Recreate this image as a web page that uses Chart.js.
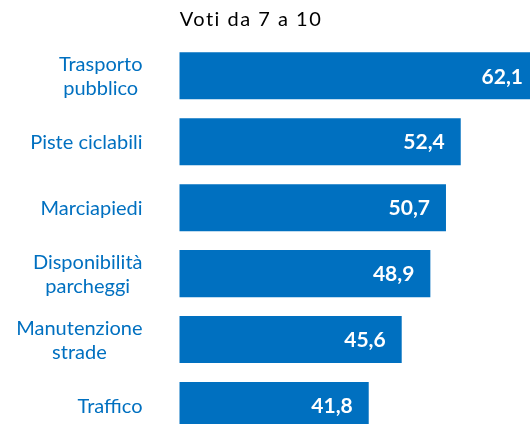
<!DOCTYPE html>
<html>
<head>
<meta charset="utf-8">
<script src="https://cdn.jsdelivr.net/npm/chart.js@4/dist/chart.umd.min.js"></script>
<style>
  html, body { margin: 0; padding: 0; background: #fff; overflow: hidden; width: 530px; height: 424px; }
  #wrap { position: relative; width: 600px; height: 450px; }
</style>
</head>
<body>
<div id="wrap"><canvas id="c" width="600" height="450"></canvas></div>
<script>
// Categories (multi-line labels are arrays of lines)
const categories = [
  ['Trasporto', 'pubblico'],
  'Piste ciclabili',
  'Marciapiedi',
  ['Disponibilità', 'parcheggi'],
  ['Manutenzione', 'strade'],
  'Traffico'
];
// Share of votes from 7 to 10 (%)
const votes = [62.1, 52.4, 50.7, 48.9, 45.6, 41.8];
const subtitle = 'Voti da 7 a 10';

const BLUE = '#0070C0';

const fmt = v => v.toFixed(1).replace('.', ',');

// Category labels: block right-aligned next to the axis, lines centred inside it
const categoryLabels = {
  id: 'categoryLabels',
  afterDraw(chart) {
    const { ctx, chartArea } = chart;
    const y = chart.scales.y;
    ctx.save();
    ctx.font = '20px Lato';
    ctx.fillStyle = BLUE;
    ctx.textAlign = 'center';
    ctx.textBaseline = 'middle';
    const right = chartArea.left - 37;
    const lh = 24;
    categories.forEach((lab, i) => {
      const lines = Array.isArray(lab) ? lab : [lab];
      const w = Math.max(...lines.map(l => ctx.measureText(l).width));
      const cx = right - w / 2;
      const cy = y.getPixelForTick(i) + 1;
      lines.forEach((l, k) => {
        ctx.fillText(l, cx, cy + (k - (lines.length - 1) / 2) * lh);
      });
    });
    ctx.restore();
  }
};

// Value labels inside the end of each bar
const valueLabels = {
  id: 'valueLabels',
  afterDatasetsDraw(chart) {
    const { ctx } = chart;
    const meta = chart.getDatasetMeta(0);
    ctx.save();
    ctx.font = 'bold 21px Lato';
    ctx.fillStyle = '#ffffff';
    ctx.textAlign = 'right';
    ctx.textBaseline = 'middle';
    meta.data.forEach((bar, i) => {
      const x = Math.min(bar.x - 16, 523);
      ctx.fillText(fmt(votes[i]), x, bar.y + 1);
    });
    ctx.restore();
  }
};

// Subtitle above the bars
const subtitleText = {
  id: 'subtitleText',
  afterDraw(chart) {
    const { ctx } = chart;
    ctx.save();
    ctx.font = '20px Lato';
    ctx.letterSpacing = '1.5px';
    ctx.fillStyle = '#000';
    ctx.textAlign = 'center';
    ctx.textBaseline = 'middle';
    ctx.fillText(subtitle, 251, 20);
    ctx.restore();
  }
};

new Chart(document.getElementById('c'), {
  type: 'bar',
  data: {
    labels: categories,
    datasets: [{
      data: votes,
      backgroundColor: BLUE,
      borderWidth: 0,
      barPercentage: 0.713,
      categoryPercentage: 1.0
    }]
  },
  options: {
    indexAxis: 'y',
    responsive: false,
    devicePixelRatio: 1,
    animation: false,
    layout: { padding: { top: 42.8, bottom: 11.5, left: 0, right: 20 } },
    plugins: { legend: { display: false }, tooltip: { enabled: false }, title: { display: false } },
    scales: {
      x: {
        min: 20,
        max: 66.14,
        display: false,
        grid: { display: false }
      },
      y: {
        grid: { display: false },
        border: { display: false },
        ticks: { display: false },
        afterFit(scale) { scale.width = 179.5; }
      }
    }
  },
  plugins: [categoryLabels, valueLabels, subtitleText]
});
</script>
</body>
</html>
